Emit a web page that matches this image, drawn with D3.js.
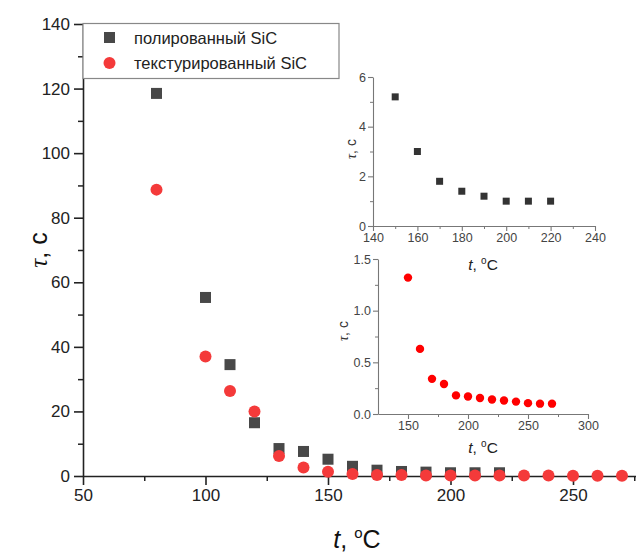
<!DOCTYPE html>
<html>
<head>
<meta charset="utf-8">
<script src="https://cdn.jsdelivr.net/npm/d3@7"></script>
<style>
  body { margin: 0; background: #fff; }
  svg { font-family: "Liberation Sans", Arial, sans-serif; }
</style>
</head>
<body>
<svg id="chart" width="636" height="552"></svg>
<script>
// polished SiC (squares)
var tPol = [80, 100, 110, 120, 130, 140, 150, 160, 170, 180, 190, 200, 210, 220]
var tauPol = [118.5, 55.3, 34.5, 16.5, 8.5, 7.6, 5.2, 3.0, 1.8, 1.4, 1.2, 1.0, 1.0, 1.0]
// textured SiC (circles)
var tTex = [80, 100, 110, 120, 130, 140, 150, 160, 170, 180, 190, 200, 210, 220, 230, 240, 250, 260, 270]
var tauTex = [88.7, 37.0, 26.3, 20.0, 6.2, 2.6, 1.32, 0.63, 0.34, 0.29, 0.18, 0.17, 0.155, 0.14, 0.13, 0.12, 0.105, 0.10, 0.10]

var legendLabels = ["полированный SiC", "текстурированный SiC"]

var mainXTicks = [50, 100, 150, 200, 250]
var mainYTicks = [0, 20, 40, 60, 80, 100, 120, 140]
var in1XTicks = [140, 160, 180, 200, 220, 240]
var in1YTicks = [0, 2, 4, 6]
var in2XTicks = [150, 200, 250, 300]
var in2YTicks = [0, 0.5, 1.0, 1.5]

var pol = tPol.map(function(t, i){ return {t: t, v: tauPol[i]} })
var tex = tTex.map(function(t, i){ return {t: t, v: tauTex[i]} })

var svg = d3.select("#chart")

// ---------- main chart ----------
var x = d3.scaleLinear().domain([50, 280]).range([83, 646.5])
var y = d3.scaleLinear().domain([0, 140]).range([476, 24])

function styleAxis(g, color, width, fs, fcolor) {
    g.select(".domain").attr("stroke", color).attr("stroke-width", width)
    g.selectAll(".tick line").attr("stroke", color).attr("stroke-width", width)
    g.selectAll(".tick text").attr("font-size", fs).attr("fill", fcolor)
        .attr("font-family", "Liberation Sans, Arial, sans-serif")
}

// minor ticks
svg.append("g").attr("transform", "translate(0,476)")
    .call(d3.axisBottom(x).tickValues(d3.range(75, 280, 50)).tickFormat("").tickSize(5).tickSizeOuter(0))
    .call(function(g){ styleAxis(g, "#222", 1.5, 0, "#222"); g.select(".domain").remove() })
svg.append("g").attr("transform", "translate(83,0)")
    .call(d3.axisLeft(y).tickValues(d3.range(10, 140, 20)).tickFormat("").tickSize(5).tickSizeOuter(0))
    .call(function(g){ styleAxis(g, "#222", 1.5, 0, "#222"); g.select(".domain").remove() })

svg.append("g").attr("transform", "translate(0,476)")
    .call(d3.axisBottom(x).tickValues(mainXTicks).tickSize(9).tickSizeOuter(0).tickPadding(4))
    .call(function(g){ styleAxis(g, "#222", 1.6, "17px", "#222") })
svg.append("g").attr("transform", "translate(83,0)")
    .call(d3.axisLeft(y).tickValues(mainYTicks).tickSize(9).tickSizeOuter(0).tickPadding(4))
    .call(function(g){ styleAxis(g, "#222", 1.6, "17px", "#222") })

// axis titles
var xt = svg.append("text").attr("x", 357).attr("y", 548).attr("text-anchor", "middle")
    .attr("font-size", "25px").attr("fill", "#111")
xt.append("tspan").attr("font-style", "italic").text("t")
xt.append("tspan").text(", ")
xt.append("tspan").attr("font-size", "15px").attr("dy", "-10").text("o")
xt.append("tspan").attr("dy", "10").text("C")

var yt = svg.append("text").attr("transform", "translate(47,250) rotate(-90)")
    .attr("text-anchor", "middle").attr("font-size", "25px").attr("fill", "#111")
yt.append("tspan").attr("font-family", "Liberation Serif, serif").attr("font-style", "italic").text("τ")
yt.append("tspan").text(", с")

// points
svg.append("g").selectAll("rect").data(pol).enter().append("rect")
    .attr("x", function(d){ return x(d.t) - 5.5 })
    .attr("y", function(d){ return y(d.v) - 5.5 })
    .attr("width", 11).attr("height", 11)
    .attr("fill", "#484848")
svg.append("g").selectAll("circle").data(tex).enter().append("circle")
    .attr("cx", function(d){ return x(d.t) })
    .attr("cy", function(d){ return y(d.v) })
    .attr("r", 6)
    .attr("fill", "#f43a3a")

// legend
var leg = svg.append("g")
leg.append("rect").attr("x", 83).attr("y", 23.5).attr("width", 256).attr("height", 55)
    .attr("fill", "#fff").attr("stroke", "#888").attr("stroke-width", 1.2)
leg.append("rect").attr("x", 104).attr("y", 32).attr("width", 11).attr("height", 11).attr("fill", "#484848")
leg.append("circle").attr("cx", 109.5).attr("cy", 63).attr("r", 6).attr("fill", "#f43a3a")
leg.selectAll("text.lab").data(legendLabels).enter().append("text")
    .attr("x", 134).attr("y", function(d, i){ return 43.5 + i * 25 })
    .attr("font-size", "16.5px").attr("fill", "#222")
    .text(function(d){ return d })

// ---------- insets ----------
function inset(o) {
    var g = svg.append("g")
    var ix = d3.scaleLinear().domain(o.xd).range(o.xr)
    var iy = d3.scaleLinear().domain(o.yd).range(o.yr)
    g.append("g").attr("transform", "translate(0," + o.yr[0] + ")")
        .call(d3.axisBottom(ix).tickValues(o.xMinor).tickFormat("").tickSize(3).tickSizeOuter(0))
        .call(function(s){ styleAxis(s, "#777", 1, 0, "#444"); s.select(".domain").remove() })
    g.append("g").attr("transform", "translate(" + o.xr[0] + ",0)")
        .call(d3.axisLeft(iy).tickValues(o.yMinor).tickFormat("").tickSize(3).tickSizeOuter(0))
        .call(function(s){ styleAxis(s, "#777", 1, 0, "#444"); s.select(".domain").remove() })
    g.append("g").attr("transform", "translate(0," + o.yr[0] + ")")
        .call(d3.axisBottom(ix).tickValues(o.xTicks).tickSize(5).tickSizeOuter(0).tickPadding(2)
            .tickFormat(o.xFmt))
        .call(function(s){ styleAxis(s, "#777", 1.1, "12.5px", "#444") })
    g.append("g").attr("transform", "translate(" + o.xr[0] + ",0)")
        .call(d3.axisLeft(iy).tickValues(o.yTicks).tickSize(5).tickSizeOuter(0).tickPadding(2)
            .tickFormat(o.yFmt))
        .call(function(s){ styleAxis(s, "#777", 1.1, "12.5px", "#444") })

    var lx = g.append("text").attr("x", o.xl[0]).attr("y", o.xl[1]).attr("text-anchor", "middle")
        .attr("font-size", "15.5px").attr("fill", "#222")
    lx.append("tspan").attr("font-style", "italic").text("t")
    lx.append("tspan").text(", ")
    lx.append("tspan").attr("font-size", "10px").attr("dy", "-6").text("o")
    lx.append("tspan").attr("dy", "6").text("C")
    var ly = g.append("text").attr("transform", "translate(" + o.yl[0] + "," + o.yl[1] + ") rotate(-90)")
        .attr("text-anchor", "middle").attr("font-size", "14px").attr("fill", "#333")
    ly.append("tspan").attr("font-family", "Liberation Serif, serif").attr("font-style", "italic").text("τ")
    ly.append("tspan").text(", с")

    if (o.square) {
        g.append("g").selectAll("rect").data(o.data).enter().append("rect")
            .attr("x", function(d){ return ix(d.t) - 3.5 })
            .attr("y", function(d){ return iy(d.v) - 3.5 })
            .attr("width", 7).attr("height", 7).attr("fill", "#333")
    } else {
        g.append("g").selectAll("circle").data(o.data).enter().append("circle")
            .attr("cx", function(d){ return ix(d.t) })
            .attr("cy", function(d){ return iy(d.v) })
            .attr("r", 4.2).attr("fill", "#f00")
    }
}

inset({
    xd: [140, 240], xr: [373, 595], yd: [0, 6], yr: [226, 77],
    xTicks: in1XTicks, yTicks: in1YTicks,
    xMinor: d3.range(150, 240, 20), yMinor: [1, 3, 5],
    xFmt: d3.format("d"), yFmt: d3.format("d"),
    xl: [483, 270], yl: [356, 149],
    square: true,
    data: pol.filter(function(d){ return d.t >= 150 })
})

inset({
    xd: [125, 300], xr: [378, 588], yd: [0, 1.5], yr: [414, 259],
    xTicks: in2XTicks, yTicks: in2YTicks,
    xMinor: [175, 225, 275], yMinor: [0.25, 0.75, 1.25],
    xFmt: d3.format("d"), yFmt: d3.format(".1f"),
    xl: [483, 453], yl: [348, 331],
    square: false,
    data: tex.filter(function(d){ return d.t >= 150 })
})
</script>
</body>
</html>
